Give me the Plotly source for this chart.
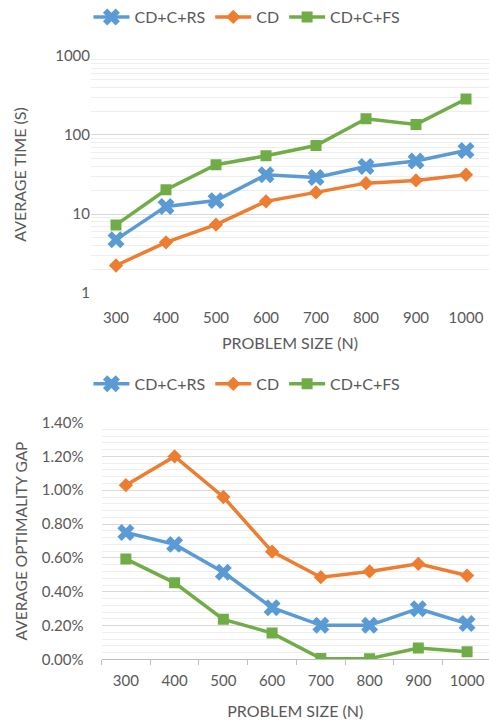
import plotly.graph_objects as go

sizes = ["300", "400", "500", "600", "700", "800", "900", "1000"]
series_names = ["CD+C+RS", "CD", "CD+C+FS"]

time_rs = [4.75, 12.5, 14.8, 31.4, 29.0, 40.0, 47.0, 63.5]
time_cd = [2.24, 4.4, 7.35, 14.5, 18.8, 24.6, 26.6, 31.4]
time_fs = [7.3, 20.3, 42.0, 54.5, 73.5, 160.0, 136.0, 285.0]

gap_rs = [0.0075, 0.0068, 0.00515, 0.00306, 0.00202, 0.00202, 0.0030, 0.00212]
gap_cd = [0.0103, 0.0120, 0.0096, 0.00637, 0.00486, 0.0052, 0.00565, 0.00496]
gap_fs = [0.00594, 0.00453, 0.00237, 0.00156, 0.00006, 0.00005, 0.00068, 0.00045]

time_ticks = [1, 10, 100, 1000]
gap_ticks = [0, 0.002, 0.004, 0.006, 0.008, 0.010, 0.012, 0.014]

colors = ["#5B9BD5", "#ED7D31", "#70AD47"]
symbols = ["x", "diamond", "square"]
msizes = [15, 11, 11]
TXT = "#595959"
FONT = "Lato"
W, H = 489, 723

fig = go.Figure()

for name, vals, c, s, ms in zip(series_names, [time_rs, time_cd, time_fs], colors, symbols, msizes):
    fig.add_trace(go.Scatter(x=sizes, y=vals, name=name, mode="lines+markers",
                             line=dict(color=c, width=3.5),
                             marker=dict(symbol=s, size=ms, color=c),
                             xaxis="x", yaxis="y", legend="legend"))
for name, vals, c, s, ms in zip(series_names, [gap_rs, gap_cd, gap_fs], colors, symbols, msizes):
    fig.add_trace(go.Scatter(x=sizes, y=vals, name=name, mode="lines+markers",
                             line=dict(color=c, width=3.5),
                             marker=dict(symbol=s, size=ms, color=c),
                             xaxis="x2", yaxis="y2", legend="legend2"))

minor_log = [m * 10 ** k for k in range(0, 3) for m in range(2, 10)]

def py(p):
    return 1 - p / H

fig.update_layout(
    width=W, height=H,
    margin=dict(l=0, r=0, t=0, b=0),
    paper_bgcolor="white", plot_bgcolor="white",
    font=dict(family=FONT, color=TXT, size=15),
    legend=dict(orientation="h", x=0.505, xanchor="center", y=py(15), yanchor="middle",
                font=dict(size=16, color=TXT), itemwidth=36, bgcolor="rgba(0,0,0,0)"),
    legend2=dict(orientation="h", x=0.505, xanchor="center", y=py(383), yanchor="middle",
                 font=dict(size=16, color=TXT), itemwidth=36, bgcolor="rgba(0,0,0,0)"),
    xaxis=dict(domain=[91 / W, 1], anchor="y", type="category", range=[-0.5, 7.46],
               showgrid=False, showline=False, ticks="", tickfont=dict(size=15),
               ticklabelstandoff=14,
               title=dict(text="PROBLEM SIZE (N)", font=dict(size=16), standoff=12),
               automargin=False),
    yaxis=dict(domain=[py(292), py(54)], anchor="x", type="log", range=[0, 3],
               tickvals=time_ticks, ticktext=[str(v) for v in time_ticks],
               showgrid=True, gridcolor="#D9D9D9", gridwidth=1, zeroline=False,
               showline=False, ticks="", tickfont=dict(size=15),
               minor=dict(tickmode="array", tickvals=minor_log, showgrid=True,
                          gridcolor="#EEEEEE", gridwidth=1, ticks=""),
               title=dict(text="AVERAGE TIME (S)", font=dict(size=16), standoff=24),
               automargin=False),
    xaxis2=dict(domain=[101.5 / W, 1], anchor="y2", type="category", range=[-0.5, 7.45],
                showgrid=False, showline=True, linecolor="#BFBFBF", linewidth=1,
                ticks="outside", tickson="boundaries", ticklen=5, tickcolor="#BFBFBF",
                tickfont=dict(size=15), ticklabelstandoff=8,
                title=dict(text="PROBLEM SIZE (N)", font=dict(size=16), standoff=17),
                automargin=False),
    yaxis2=dict(domain=[py(659.3), py(421.7)], anchor="x2", range=[0, 0.014],
                tickvals=gap_ticks, tickformat=".2%",
                showgrid=True, gridcolor="#D9D9D9", gridwidth=1, zeroline=False,
                showline=False, ticks="", tickfont=dict(size=15), ticklabelstandoff=17,
                minor=dict(dtick=0.0004, showgrid=True, gridcolor="#EEEEEE", gridwidth=1, ticks=""),
                title=dict(text="AVERAGE OPTIMALITY GAP", font=dict(size=15.5), standoff=10),
                automargin=False),
)

fig.write_html("out.html", config={"displayModeBar": False},
               post_script="document.body.style.margin='0';document.body.style.padding='0';document.body.style.overflow='hidden';")
